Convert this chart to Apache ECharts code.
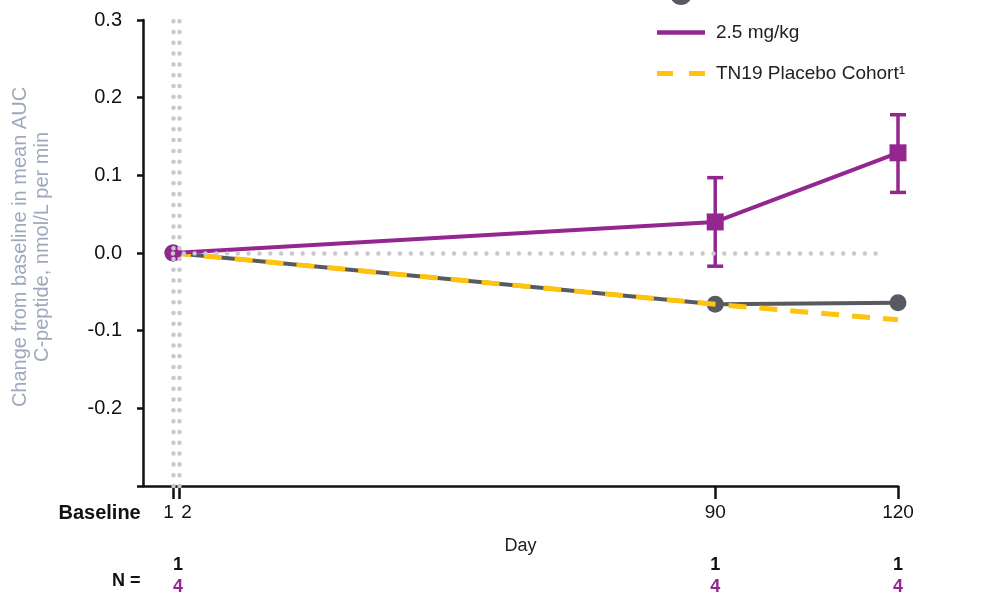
<!DOCTYPE html>
<html><head><meta charset="utf-8">
<script src="https://cdn.jsdelivr.net/npm/echarts@6/dist/echarts.min.js"></script>
<style>html,body{margin:0;padding:0;background:#fff}#c{width:1000px;height:600px}</style>
</head><body><div id="c"></div>
<script>
// ---- data ----
const days = [1, 90, 120];
const tickDays = [1, 2, 90, 120];
const placeboValues = [0, -0.066, -0.064];
const mg25Values = [0, 0.040, 0.129];
const mg25ErrLow = [null, -0.017, 0.078];
const mg25ErrHigh = [null, 0.097, 0.178];
const tn19Values = [0, -0.066, -0.086];
const nPlacebo = [1, 1, 1];
const nMg25 = [4, 4, 4];
const seriesNames = ['Placebo', '2.5 mg/kg', 'TN19 Placebo Cohort\u00B9'];
const refLineDays = [1, 2];
const zeroLineEnd = 117;

// ---- styles ----
const FONT = 'Arial, "Liberation Sans", sans-serif';
const PURPLE = '#93278f', GRAY = '#575b61', YELLOW = '#ffc20e', DOT = '#c8c8ce';
const XMIN = -3.92, XMAX = 120;

const chart = echarts.init(document.getElementById('c'));
const dotStyle = { color: DOT, width: 4.5, type: [0.01, 10.8], cap: 'round' };
const legendText = { fontSize: 19, color: '#222', fontFamily: FONT, padding: [0, 0, 0, 6] };

const option = {
  animation: false,
  textStyle: { fontFamily: FONT },
  grid: { left: 143, right: 102, top: 20, bottom: 114, containLabel: false },
  legend: [{
    orient: 'vertical', left: 652, top: -22,
    itemWidth: 48, itemHeight: 22,
    textStyle: { fontSize: 19, color: '#222', fontFamily: FONT, padding: [0, 0, 18, 6] },
    data: [{ name: seriesNames[0], icon: 'path://M0,10.4H48V11.6H0Z M24,0A11,11 0 1,1 23.99,0Z' }]
  }, {
    orient: 'vertical', left: 652, top: 18,
    itemWidth: 48, itemHeight: 22, itemGap: 22,
    textStyle: legendText,
    data: [
      { name: seriesNames[1], icon: 'path://M0,0H48V4.5H0Z' },
      { name: seriesNames[2], icon: 'path://M0,0H16V5H0Z M32,0H48V5H32Z' }
    ]
  }],
  xAxis: [{
    type: 'value', min: XMIN, max: XMAX,
    name: 'Day', nameLocation: 'middle', nameGap: 51,
    nameTextStyle: { fontSize: 18, color: '#222', fontFamily: FONT },
    axisLine: { show: true, onZero: false, lineStyle: { color: '#111', width: 2.5 } },
    axisTick: { show: true, customValues: tickDays, length: 13, lineStyle: { color: '#111', width: 2.5 } },
    splitLine: { show: false },
    axisLabel: {
      customValues: [tickDays[0], tickDays[2], tickDays[3]], margin: 17, color: '#111', fontSize: 19, fontFamily: FONT,
      hideOverlap: false, showMinLabel: true, showMaxLabel: true,
      formatter: function (v) {
        if (v === tickDays[0]) return '{b|Baseline}{n|' + tickDays[0] + '}{g|}{n|' + tickDays[1] + '}{pad|}';
        return '{n|' + v + '}';
      },
      rich: {
        b: { width: 105, align: 'left', fontWeight: 'bold', fontSize: 20, color: '#111', fontFamily: FONT },
        n: { width: 10, fontSize: 19, color: '#111', fontFamily: FONT, align: 'center' },
        g: { width: 8 },
        pad: { width: 96 }
      }
    }
  }, {
    type: 'value', min: XMIN, max: XMAX, position: 'bottom', offset: 60,
    axisLine: { show: false, onZero: false }, axisTick: { show: false }, splitLine: { show: false },
    axisLabel: {
      customValues: days, margin: 8, hideOverlap: false, showMinLabel: true, showMaxLabel: true,
      formatter: function (v) {
        const i = days.indexOf(v);
        const sp = i === 0 ? '{sp|}' : '';
        return sp + '{k|' + nPlacebo[i] + '}\n' + sp + '{p|' + nMg25[i] + '}';
      },
      rich: {
        k: { fontWeight: 'bold', fontSize: 18, color: '#111', lineHeight: 22, fontFamily: FONT },
        p: { fontWeight: 'bold', fontSize: 18, color: PURPLE, lineHeight: 22, fontFamily: FONT },
        sp: { width: 10, lineHeight: 22 }
      }
    }
  }],
  yAxis: {
    type: 'value', min: -0.3, max: 0.3, interval: 0.1,
    name: 'Change from baseline in mean AUC\nC-peptide, nmol/L per min',
    nameLocation: 'middle', nameGap: 90,
    nameTextStyle: { fontSize: 20, color: '#9fa8bc', lineHeight: 22, fontFamily: FONT, padding: [0, 0, 0, 12] },
    axisLine: { show: true, onZero: false, lineStyle: { color: '#111', width: 2.5 } },
    axisTick: { show: true, length: 6, lineStyle: { color: '#111', width: 2.5 } },
    splitLine: { show: false },
    axisLabel: {
      margin: 21, fontSize: 20, color: '#111', fontFamily: FONT,
      formatter: function (v) { return v < -0.25 ? '' : v.toFixed(1); }
    }
  },
  graphic: [{
    type: 'text', left: 112, top: 572,
    style: { text: 'N =', font: 'bold 18px ' + FONT, fill: '#111' }
  }],
  series: [{
    name: seriesNames[0], type: 'line', z: 2,
    data: days.map((d, i) => [d, placeboValues[i]]),
    color: GRAY,
    lineStyle: { width: 4, color: GRAY },
    itemStyle: { color: GRAY },
    symbol: 'circle', symbolSize: 17,
    markLine: {
      silent: true, symbol: 'none', label: { show: false },
      lineStyle: dotStyle,
      data: refLineDays.map(d => ({ xAxis: d })).concat([[{ coord: [refLineDays[0], 0] }, { coord: [zeroLineEnd, 0] }]])
    }
  }, {
    name: seriesNames[2], type: 'line', z: 3,
    data: days.map((d, i) => [d, tn19Values[i]]),
    color: YELLOW,
    lineStyle: { width: 5, color: YELLOW, type: [18, 13] },
    itemStyle: { color: YELLOW },
    symbol: 'none'
  }, {
    name: seriesNames[1], type: 'line', z: 4,
    data: days.map((d, i) => ({ value: [d, mg25Values[i]], symbol: i === 0 ? 'circle' : 'rect' })),
    color: PURPLE,
    lineStyle: { width: 4, color: PURPLE },
    itemStyle: { color: PURPLE },
    symbolSize: 17
  }, {
    type: 'custom', z: 4, silent: true,
    data: days.map((d, i) => [d, mg25ErrLow[i], mg25ErrHigh[i]]).filter(r => r[1] !== null),
    encode: { x: 0, y: [1, 2] },
    renderItem: function (params, api) {
      const x = api.value(0);
      const lo = api.coord([x, api.value(1)]);
      const hi = api.coord([x, api.value(2)]);
      const w = 8;
      const st = { stroke: PURPLE, lineWidth: 3.5 };
      return {
        type: 'group', children: [
          { type: 'line', shape: { x1: lo[0], y1: lo[1], x2: hi[0], y2: hi[1] }, style: st },
          { type: 'line', shape: { x1: lo[0] - w, y1: lo[1], x2: lo[0] + w, y2: lo[1] }, style: st },
          { type: 'line', shape: { x1: hi[0] - w, y1: hi[1], x2: hi[0] + w, y2: hi[1] }, style: st }
        ]
      };
    }
  }]
};
chart.setOption(option);
</script></body></html>
